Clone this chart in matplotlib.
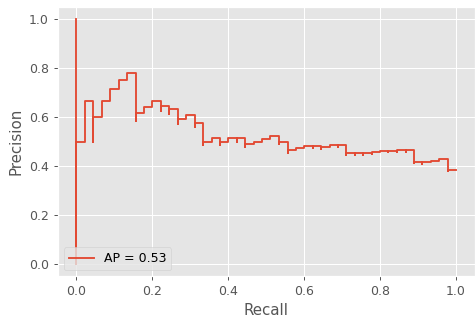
#!/usr/bin/env python

import matplotlib
matplotlib.use('Agg')
import matplotlib.pyplot as plt

plt.style.use('ggplot')

# precision-recall curve vertices, ordered by increasing recall
recall = [0.0, 0.0, 0.022, 0.044, 0.044, 0.067, 0.089, 0.111, 0.133, 0.156,
          0.156, 0.178, 0.2, 0.222, 0.222, 0.244, 0.244, 0.267, 0.267, 0.289,
          0.311, 0.311, 0.333, 0.333, 0.356, 0.378, 0.378, 0.4, 0.422, 0.422,
          0.444, 0.444, 0.467, 0.489, 0.511, 0.533, 0.533, 0.556, 0.556, 0.578,
          0.6, 0.622, 0.622, 0.644, 0.644, 0.667, 0.689, 0.689, 0.711, 0.711,
          0.733, 0.733, 0.756, 0.756, 0.778, 0.778, 0.8, 0.822, 0.822, 0.844,
          0.844, 0.867, 0.867, 0.889, 0.889, 0.911, 0.911, 0.933, 0.956, 0.978,
          0.978, 1.0]
precision = [1.0, 0.0, 0.5, 0.667, 0.5, 0.6, 0.667, 0.714, 0.75, 0.778,
             0.583, 0.615, 0.643, 0.667, 0.625, 0.647, 0.611, 0.632, 0.571, 0.591,
             0.609, 0.56, 0.577, 0.484, 0.5, 0.515, 0.486, 0.5, 0.514, 0.5,
             0.513, 0.476, 0.488, 0.5, 0.511, 0.522, 0.49, 0.5, 0.455, 0.464,
             0.474, 0.483, 0.475, 0.483, 0.468, 0.476, 0.484, 0.477, 0.485, 0.444,
             0.452, 0.446, 0.453, 0.447, 0.455, 0.449, 0.456, 0.463, 0.457, 0.463,
             0.458, 0.464, 0.459, 0.465, 0.412, 0.418, 0.41, 0.416, 0.422, 0.427,
             0.379, 0.385]
ap = 0.53

dpi = 90
fig = plt.figure(figsize=(476 / dpi, 324 / dpi), dpi=dpi)
ax = fig.add_axes([57.5 / 476, 1 - 276.3 / 324, 417.5 / 476, 269.5 / 324])
ax.plot(recall, precision, drawstyle='steps-pre', label='AP = %.2f' % ap)
ax.set_xlabel('Recall')
ax.set_ylabel('Precision')
ax.legend(loc='lower left')

fig.savefig('out.png', dpi=dpi)
